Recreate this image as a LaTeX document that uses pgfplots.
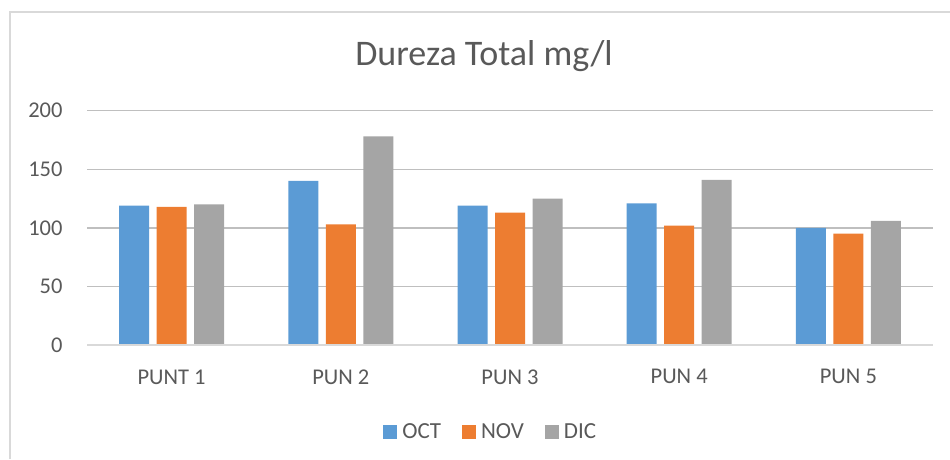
\documentclass[border=0pt]{standalone}
\usepackage{pgfplots}
\pgfplotsset{compat=1.18}
\usepackage{fontspec}
\setmainfont{Carlito}
\definecolor{cOCT}{HTML}{5B9BD5}
\definecolor{cNOV}{HTML}{ED7D31}
\definecolor{cDIC}{HTML}{A5A5A5}
\definecolor{txt}{HTML}{595959}
\definecolor{grid}{HTML}{D9D9D9}
\begin{document}
\begin{tikzpicture}[x=1pt,y=1pt]
\path[use as bounding box] (0,0) rectangle (950,459);
\draw[grid, line width=1.5pt] (10,0) -- (10,447) -- (950,447);
\node[txt, font=\fontsize{36}{42}\selectfont] at (484,403) {Dureza Total mg/l};
\begin{axis}[
  at={(87pt,114pt)}, anchor=south west,
  scale only axis, width=846pt, height=234.3pt,
  ybar=7.5pt, bar width=30pt,
  xmin=-0.5, xmax=4.5, ymin=0, ymax=200,
  xtick=data, xticklabels={PUNT 1,PUN 2,PUN 3,PUN 4,PUN 5},
  ytick={0,50,100,150,200},
  axis line style={draw=none},
  xmajorgrids=false, ymajorgrids,
  xtick style={draw=none}, ytick style={draw=none},
  major tick length=0pt,
  grid style={grid, line width=1.3pt},
  tick label style={txt, font=\fontsize{22.5}{26}\selectfont},
  /pgf/number format/assume math mode=true,
  yticklabel style={xshift=-21pt},
  xticklabel style={yshift=-21pt},
  legend columns=3,
  legend style={draw=none, at={(0.479,-0.371)}, anchor=center,
    font=\fontsize{23}{26}\selectfont, text=txt,
    nodes={inner xsep=5pt},
    /tikz/every even column/.append style={column sep=16pt}},
  legend image code/.code={\fill[#1,draw=none] (0pt,-7pt) rectangle (14pt,7pt);},
]
\addplot[fill=cOCT, draw=none] coordinates {(0,119) (1,140) (2,119) (3,121) (4,100)};
\addplot[fill=cNOV, draw=none] coordinates {(0,118) (1,103) (2,113) (3,102) (4,95)};
\addplot[fill=cDIC, draw=none] coordinates {(0,120) (1,178) (2,125) (3,141) (4,106)};
\draw[grid, line width=1.3pt] (axis cs:-0.5,0) -- (axis cs:4.5,0);
\legend{OCT,NOV,DIC}
\end{axis}
\end{tikzpicture}
\end{document}
